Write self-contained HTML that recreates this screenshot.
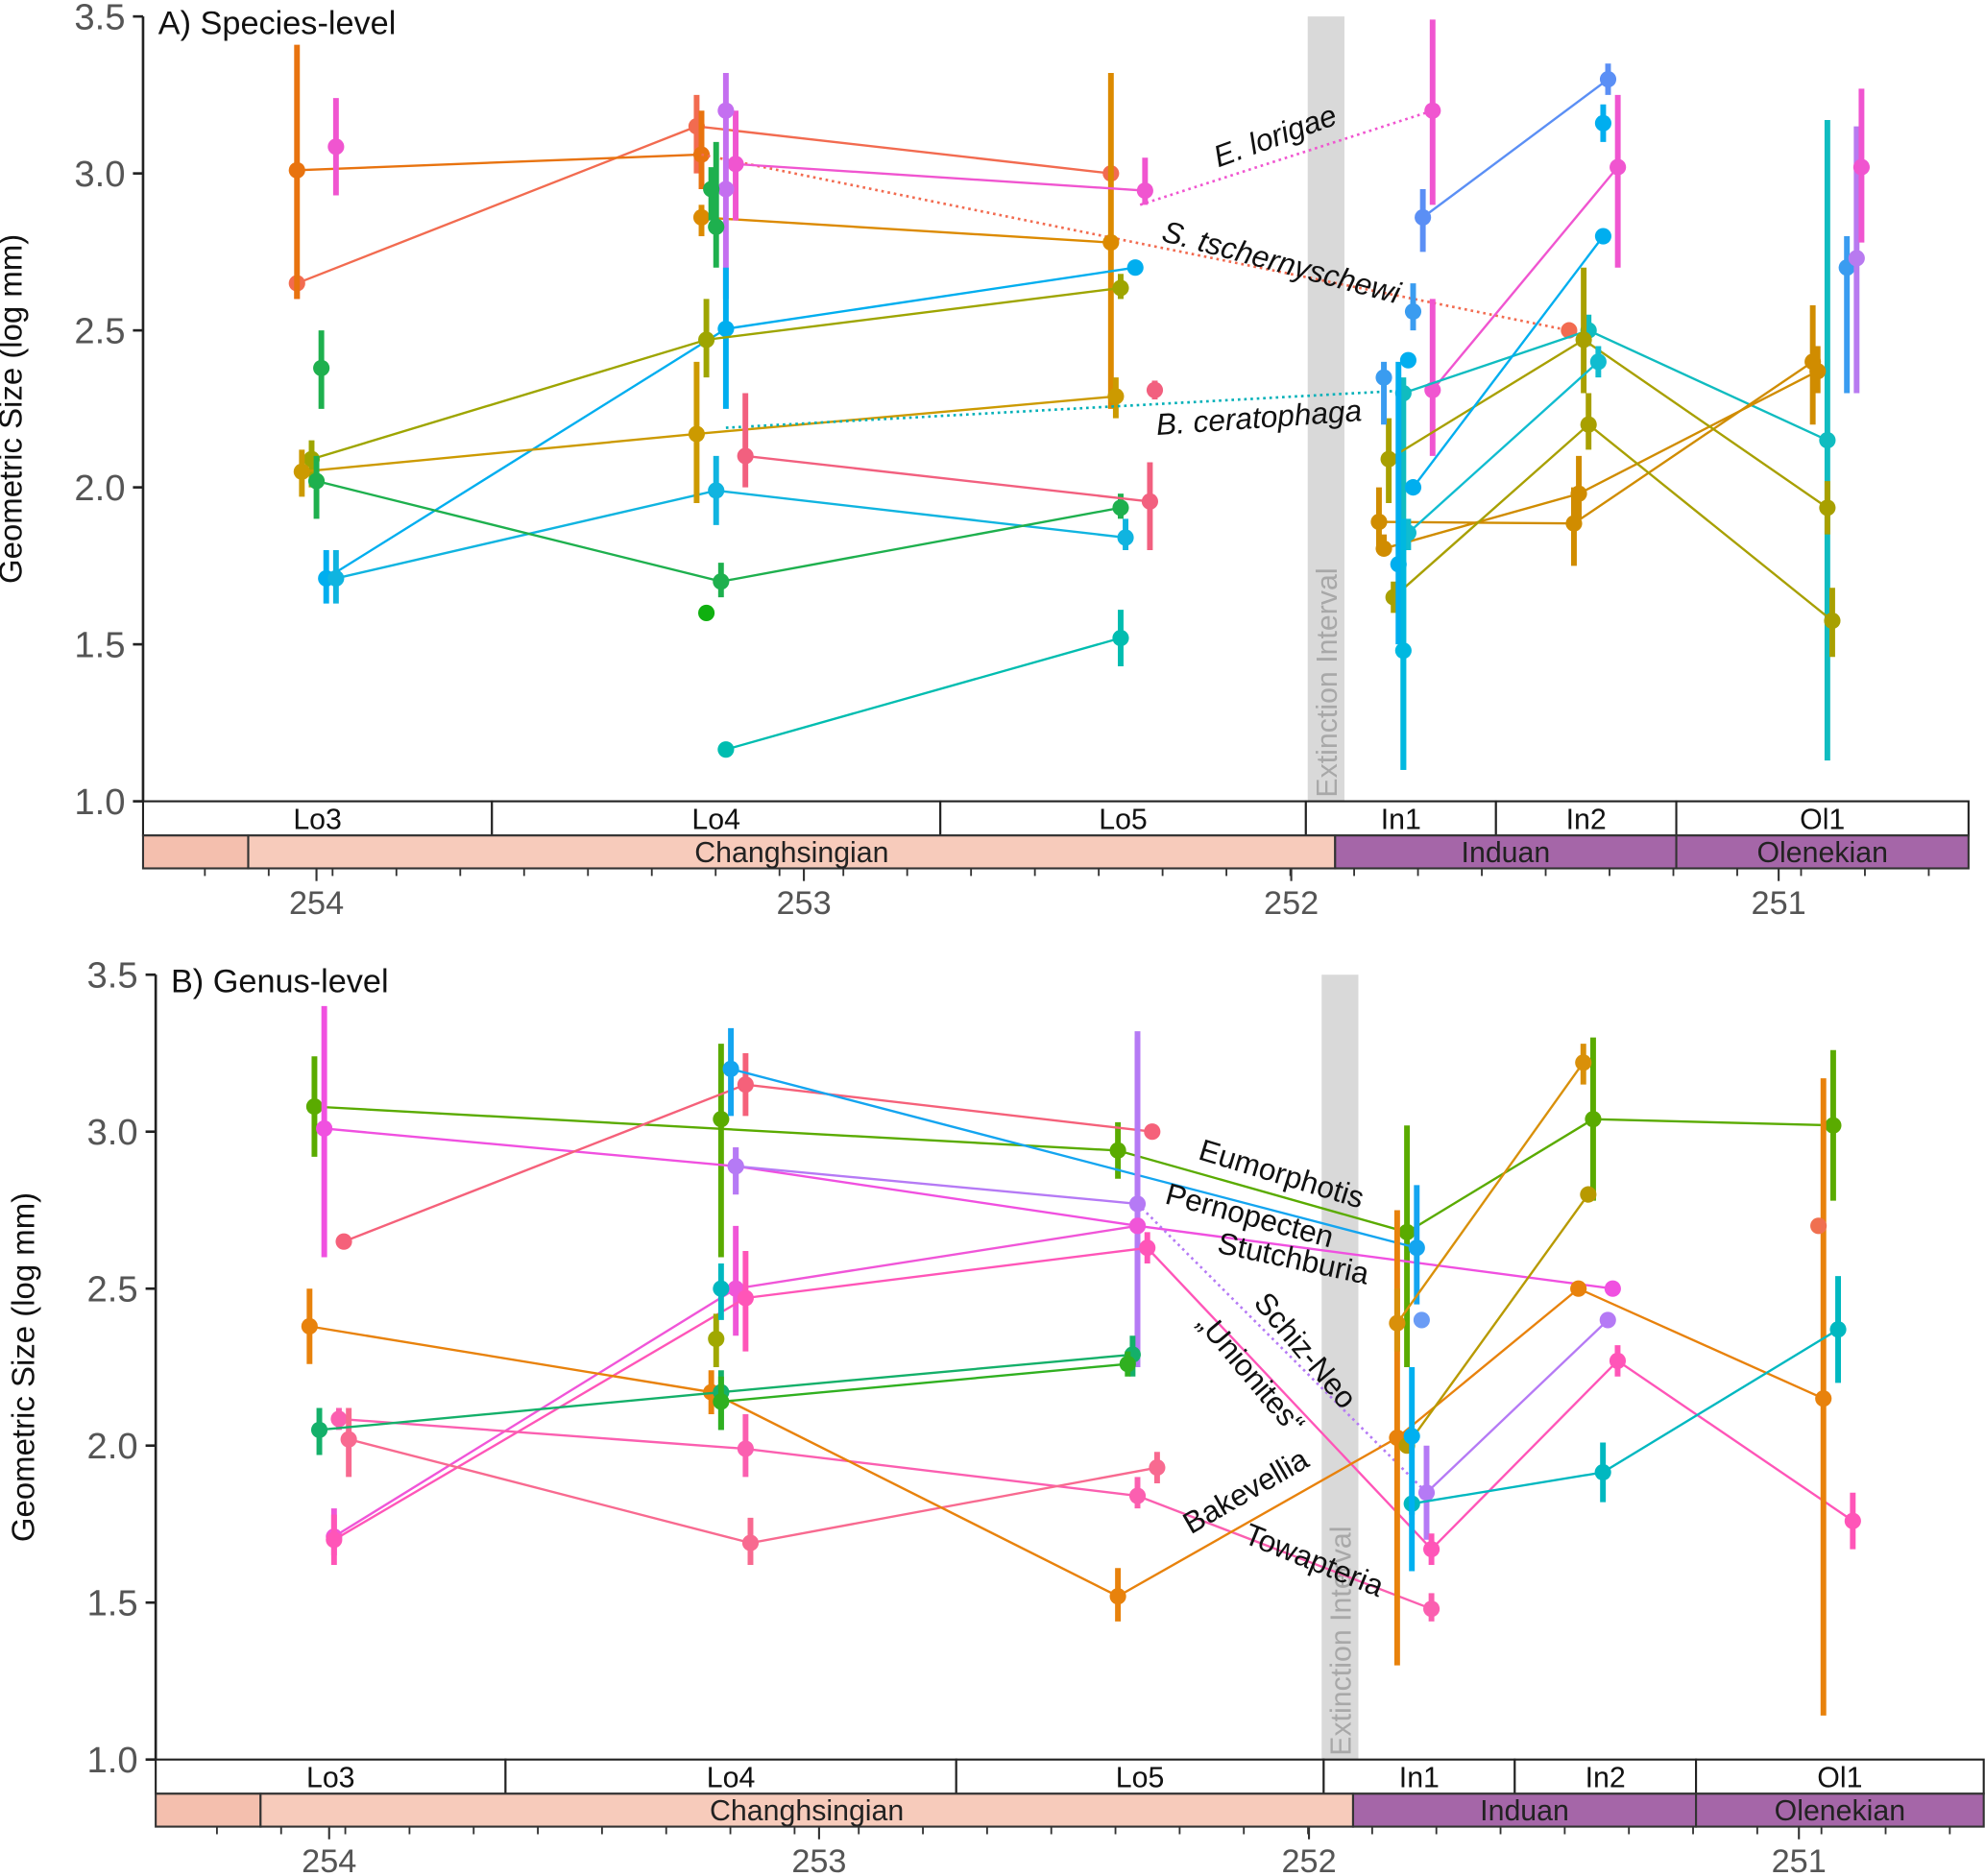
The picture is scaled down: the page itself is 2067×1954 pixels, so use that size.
<!DOCTYPE html>
<html><head><meta charset="utf-8"><style>
html,body{margin:0;padding:0;background:#fff}
svg{display:block}
text{font-family:"Liberation Sans",Arial,sans-serif}
</style></head><body>
<svg id="fig" width="2067" height="1954" viewBox="0 0 1568 1482" preserveAspectRatio="none" xmlns="http://www.w3.org/2000/svg"></svg>
<script>
// ---------- data ----------
const yTicks = [1.0, 1.5, 2.0, 2.5, 3.0, 3.5];
const ageTicks = [254, 253, 252, 251];
const substages = ["Lo3","Lo4","Lo5","In1","In2","Ol1"];
const substageBounds = [254.36, 253.64, 252.72, 251.97, 251.58, 251.21, 250.4];
const stageNames = ["", "Changhsingian", "Induan", "Olenekian"];
const stageBounds = [254.36, 254.14, 251.91, 251.21, 250.4];

const topSeries = [
 {c:"#f26b50",age:[254.04,253.22,252.37],val:[2.65,3.15,3.0],lo:[2.6,3.0,3.0],hi:[2.65,3.25,3.0]},
 {c:"#e8730f",age:[254.04,253.21],val:[3.01,3.06],lo:[2.6,2.95],hi:[3.41,3.2]},
 {c:"#f26b50",dot:1,age:[253.21,251.43],val:[3.06,2.5]},
 {c:"#f26b50",age:[251.43],val:[2.5],lo:[2.5],hi:[2.5]},
 {c:"#dc8a00",age:[253.21,252.37],val:[2.86,2.78],lo:[2.8,2.25],hi:[2.9,3.32]},
 {c:"#f055d0",age:[253.96],val:[3.085],lo:[2.93],hi:[3.24]},
 {c:"#f055d0",age:[253.14,252.30],val:[3.03,2.945],lo:[2.85,2.9],hi:[3.2,3.05]},
 {c:"#f055d0",dot:1,age:[252.31,251.71],val:[2.9,3.2]},
 {c:"#f055d0",age:[251.71],val:[3.2],lo:[2.9],hi:[3.49]},
 {c:"#c46ff0",age:[253.16],val:[3.2],lo:[2.6],hi:[3.32]},
 {c:"#c46ff0",age:[253.16],val:[2.95],lo:[2.95],hi:[2.95]},
 {c:"#5b8ff5",age:[251.73,251.35],val:[2.86,3.3],lo:[2.75,3.25],hi:[2.95,3.35]},
 {c:"#f055d0",age:[251.71,251.33],val:[2.31,3.02],lo:[2.1,2.7],hi:[2.6,3.25]},
 {c:"#00aeef",age:[253.98,253.16,252.32],val:[1.71,2.505,2.70],lo:[1.63,2.25,2.7],hi:[1.8,2.7,2.7]},
 {c:"#10b4e0",age:[253.96,253.18,252.34],val:[1.71,1.99,1.84],lo:[1.63,1.88,1.8],hi:[1.8,2.1,1.9]},
 {c:"#9ea500",age:[254.01,253.2,252.35],val:[2.09,2.47,2.635],lo:[2.0,2.35,2.6],hi:[2.15,2.6,2.68]},
 {c:"#cc9a00",age:[254.03,253.22,252.36],val:[2.05,2.17,2.29],lo:[1.97,1.95,2.22],hi:[2.12,2.4,2.35]},
 {c:"#00b0b8",dot:1,age:[253.16,251.75],val:[2.19,2.31]},
 {c:"#1eb04e",age:[254.0,253.17,252.35],val:[2.02,1.70,1.935],lo:[1.9,1.65,1.9],hi:[2.1,1.76,1.98]},
 {c:"#1eb04e",age:[253.99],val:[2.38],lo:[2.25],hi:[2.5]},
 {c:"#10b010",age:[253.2],val:[1.6],lo:[1.6],hi:[1.6]},
 {c:"#1eb04e",age:[253.19],val:[2.95],lo:[2.85],hi:[3.02]},
 {c:"#1eb04e",age:[253.18],val:[2.83],lo:[2.7],hi:[3.1]},
 {c:"#f2607f",age:[253.12,252.29],val:[2.1,1.955],lo:[2.0,1.8],hi:[2.3,2.08]},
 {c:"#f2607f",age:[252.28],val:[2.31],lo:[2.28],hi:[2.34]},
 {c:"#00bdb0",age:[253.16,252.35],val:[1.165,1.52],lo:[1.165,1.43],hi:[1.165,1.61]},
 {c:"#10bcc0",age:[251.77,251.39,250.9],val:[2.3,2.5,2.15],lo:[1.1,2.45,1.13],hi:[2.35,2.55,3.17]},
 {c:"#d08c00",age:[251.82,251.42,250.93],val:[1.89,1.885,2.40],lo:[1.8,1.75,2.2],hi:[2.0,2.0,2.58]},
 {c:"#d08c00",age:[251.81,251.41,250.92],val:[1.805,1.98,2.37],lo:[1.78,1.9,2.3],hi:[1.85,2.1,2.45]},
 {c:"#a8a000",age:[251.80,251.40,250.9],val:[2.09,2.47,1.935],lo:[1.95,2.3,1.85],hi:[2.22,2.7,2.02]},
 {c:"#a8a000",age:[251.79,251.39,250.89],val:[1.65,2.2,1.575],lo:[1.6,2.12,1.46],hi:[1.7,2.3,1.68]},
 {c:"#10bcd0",age:[251.76,251.37],val:[1.855,2.4],lo:[1.8,2.35],hi:[1.9,2.45]},
 {c:"#00aeef",age:[251.75,251.36],val:[2.0,2.8],lo:[2.0,2.8],hi:[2.0,2.8]},
 {c:"#3a9cf0",age:[251.81],val:[2.35],lo:[2.2],hi:[2.4]},
 {c:"#00aeef",age:[251.76],val:[2.405],lo:[2.405],hi:[2.405]},
 {c:"#3a9cf0",age:[251.75],val:[2.56],lo:[2.5],hi:[2.65]},
 {c:"#00aeef",age:[251.78],val:[1.755],lo:[1.5],hi:[2.4]},
 {c:"#00b8e0",age:[251.77],val:[1.48],lo:[1.1],hi:[1.9]},
 {c:"#3a9cf0",age:[250.86],val:[2.7],lo:[2.3],hi:[2.8]},
 {c:"#b87af0",age:[250.84],val:[2.73],lo:[2.3],hi:[3.15]},
 {c:"#f055d0",age:[250.83],val:[3.02],lo:[2.78],hi:[3.27]},
 {c:"#00aeef",age:[251.36],val:[3.16],lo:[3.1],hi:[3.22]}
];
const bottomSeries = [
 {c:"#5aab00",age:[254.03,252.39,251.8,251.42,250.93],val:[3.08,2.94,2.68,3.04,3.02],lo:[2.92,2.85,2.25,2.78,2.78],hi:[3.24,3.03,3.02,3.3,3.26]},
 {c:"#5aab00",age:[253.2],val:[3.04],lo:[2.6],hi:[3.28]},
 {c:"#f050e0",age:[254.01,253.17,252.35,251.38],val:[3.01,2.89,2.70,2.5],lo:[2.6,2.8,2.3,2.5],hi:[3.4,2.95,3.3,2.5]},
 {c:"#f5617a",age:[253.97,253.15,252.32],val:[2.65,3.15,3.0],lo:[2.65,3.05,3.0],hi:[2.65,3.25,3.0]},
 {c:"#14a5f0",age:[253.18,251.78],val:[3.2,2.63],lo:[3.05,2.45],hi:[3.33,2.83]},
 {c:"#6a9cf5",age:[251.77],val:[2.4],lo:[2.4],hi:[2.4]},
 {c:"#b57af5",age:[253.17,252.35],val:[2.89,2.77],lo:[2.8,2.25],hi:[2.95,3.32]},
 {c:"#b57af5",dot:1,age:[252.35,251.76],val:[2.77,1.85]},
 {c:"#b57af5",age:[251.76,251.39],val:[1.85,2.4],lo:[1.7,2.4],hi:[2.0,2.4]},
 {c:"#f055d8",age:[253.99,253.17,252.35],val:[1.71,2.5,2.70],lo:[1.65,2.35,2.7],hi:[1.8,2.7,2.7]},
 {c:"#ff55b8",age:[253.99,253.15,252.33,251.75,251.37,250.89],val:[1.70,2.47,2.63,1.67,2.27,1.76],lo:[1.62,2.3,2.58,1.62,2.22,1.67],hi:[1.78,2.62,2.68,1.72,2.32,1.85]},
 {c:"#fb5fb0",age:[253.98,253.15,252.35,251.75],val:[2.085,1.99,1.84,1.48],lo:[2.05,1.9,1.8,1.44],hi:[2.12,2.1,1.9,1.53]},
 {c:"#f86a90",age:[253.96,253.14,252.31],val:[2.02,1.69,1.93],lo:[1.9,1.62,1.88],hi:[2.12,1.77,1.98]},
 {c:"#e8820c",age:[254.04,253.22,252.39,251.82,251.45,250.95],val:[2.38,2.17,1.52,2.025,2.5,2.15],lo:[2.26,2.1,1.44,1.3,2.5,1.14],hi:[2.5,2.24,1.61,2.75,2.5,3.17]},
 {c:"#d9900a",age:[251.82,251.44],val:[2.39,3.22],lo:[2.3,3.15],hi:[2.5,3.28]},
 {c:"#b89a00",age:[251.8,251.43],val:[2.0,2.8],lo:[2.0,2.8],hi:[2.0,2.8]},
 {c:"#f07050",age:[250.96],val:[2.7],lo:[2.7],hi:[2.7]},
 {c:"#14b06a",age:[254.02,253.2,252.36],val:[2.05,2.17,2.29],lo:[1.97,2.05,2.22],hi:[2.12,2.24,2.35]},
 {c:"#30b020",age:[253.2,252.37],val:[2.14,2.26],lo:[2.05,2.22],hi:[2.22,2.3]},
 {c:"#00b8c0",age:[251.79,251.4,250.92],val:[1.815,1.915,2.37],lo:[1.78,1.82,2.2],hi:[1.84,2.01,2.54]},
 {c:"#00b0f0",age:[251.79],val:[2.03],lo:[1.6],hi:[2.25]},
 {c:"#a0a800",age:[253.21],val:[2.34],lo:[2.25],hi:[2.42]},
 {c:"#00b8c0",age:[253.2],val:[2.5],lo:[2.4],hi:[2.58]}
];
const topLabels = [
 {t:"E. lorigae",x:1010,y:115,r:-20,it:1},
 {t:"S. tschernyschewi",x:1010,y:215,r:15,it:1},
 {t:"B. ceratophaga",x:995,y:338,r:-4,it:1}
];
const bottomLabels = [
 {t:"Eumorphotis",x:1010,y:935,r:17},
 {t:"Pernopecten",x:985,y:968,r:15},
 {t:"Stutchburia",x:1020,y:1002,r:12},
 {t:"Schiz-Neo",x:1025,y:1072,r:50},
 {t:"„Unionites“",x:982,y:1090,r:50},
 {t:"Bakevellia",x:988,y:1185,r:-30},
 {t:"Towapteria",x:1035,y:1240,r:22}
];

// ---------- drawing ----------
const svg = document.getElementById('fig');
const NS = "http://www.w3.org/2000/svg";
function mk(tag, attrs, parent){
  const e = document.createElementNS(NS, tag);
  for (const k in attrs) e.setAttribute(k, attrs[k]);
  (parent||svg).appendChild(e);
  return e;
}
function panel(P){
  const g = mk('g', {});
  
  
  const X = a => P.x0 + (254 - a) * P.pxPerMyr;
  const Y = v => P.yBot - (v - 1.0) * P.pxPerUnit;
  const band = mk('rect', {x:P.bandX, y:Y(3.5), width:29, height:Y(1.0)-Y(3.5), fill:"#d9d9d9"}, g);
  
  
  const bt = mk('text', {x:0, y:0, 'font-size':23, fill:"#a8a8a8", 'text-anchor':'start', transform:`translate(${P.bandX+23},${Y(1.0)-3}) rotate(-90)`}, g);
  bt.textContent = "Extinction Interval";
  
  
  const yAx = mk('line', {x1:P.axX, x2:P.axX, y1:Y(3.5), y2:Y(1.0), stroke:"#222", 'stroke-width':2}, g);
  
  
  yTicks.forEach(v => {
    mk('line', {x1:P.axX-8, x2:P.axX, y1:Y(v), y2:Y(v), stroke:"#222", 'stroke-width':2}, g);
    const t = mk('text', {x:P.axX-14, y:Y(v)+10, 'font-size':29, fill:"#555", 'text-anchor':'end'}, g);
    t.textContent = v.toFixed(1);
    
    
  });
  const yt = mk('text', {x:0, y:0, 'font-size':25, fill:"#111", 'text-anchor':'middle', transform:`translate(${P.axX-96},${(Y(3.5)+Y(1.0))/2}) rotate(-90)`}, g);
  yt.textContent = "Geometric Size (log mm)";
  
  
  const ttl = mk('text', {x:P.axX+12, y:Y(3.5)+14, 'font-size':26, fill:"#111"}, g);
  ttl.textContent = P.title;
  
  
  const r1 = Y(1.0), r2 = r1+27, r3 = r2+26;
  const left = P.axX, right = P.right;
  const cx = a => Math.max(left, Math.min(right, X(a)));
  for (let i=0;i<substages.length;i++){
    const a = cx(substageBounds[i]), b = cx(substageBounds[i+1]);
    const rc = mk('rect', {x:a, y:r1, width:b-a, height:27, fill:"#fff", stroke:"#222", 'stroke-width':1.6}, g);
    
    
    const t = mk('text', {x:(a+b)/2, y:r1+22, 'font-size':23, fill:"#111", 'text-anchor':'middle'}, g);
    t.textContent = substages[i];
    
    
  }
  const stageCols = ["#f4bfae","#f7cbbb","#a566a8","#a566a8"];
  for (let i=0;i<stageNames.length;i++){
    const a = cx(stageBounds[i]), b = cx(stageBounds[i+1]);
    const rc = mk('rect', {x:a, y:r2, width:b-a, height:26, fill:stageCols[i], stroke:"#333", 'stroke-width':1.6}, g);
    
    
    const t = mk('text', {x:(a+b)/2, y:r2+21, 'font-size':23, fill:"#222", 'text-anchor':'middle'}, g);
    t.textContent = stageNames[i];
    
    
  }
  for (let a=254.36; a>250.4; a-=0.131){
    const x = X(a); if (x<left||x>right) continue;
    mk('line', {x1:x, x2:x, y1:r3, y2:r3+6, stroke:"#333", 'stroke-width':1.4}, g);
  }
  ageTicks.forEach(a => {
    mk('line', {x1:X(a), x2:X(a), y1:r3, y2:r3+10, stroke:"#333", 'stroke-width':1.6}, g);
    const t = mk('text', {x:X(a), y:r3+36, 'font-size':26, fill:"#555", 'text-anchor':'middle'}, g);
    t.textContent = a;
    
    
  });
  P.series.forEach(s => {
    const pts = s.age.map((a,i)=>X(a).toFixed(1)+','+Y(s.val[i]).toFixed(1)).join(' ');
    if (s.age.length>1){
      const pl = mk('polyline', {points:pts, fill:'none', stroke:s.c, 'stroke-width':s.dot?2:1.8, 'stroke-dasharray':s.dot?'2 3':'none'}, g);
      
      
    }
    if (s.dot) return;
    s.age.forEach((a,i) => {
      const eb = mk('line', {x1:X(a), x2:X(a), y1:Y(s.lo[i]), y2:Y(s.hi[i]), stroke:s.c, 'stroke-width':4.5}, g);
      
      
      const c = mk('circle', {cx:X(a), cy:Y(s.val[i]), r:6.5, fill:s.c}, g);
      
      
    });
  });
  P.labels.forEach(L => {
    const t = mk('text', {x:0, y:0, 'font-size':24, fill:"#111", 'text-anchor':'middle', 'font-style':L.it?'italic':'normal', transform:`translate(${L.x},${L.y}) rotate(${L.r})`}, g);
    t.textContent = L.t;
    
    
  });
}
panel({name:'panel-a-species', title:'A) Species-level', x0:250, pxPerMyr:385, yBot:633, pxPerUnit:248, axX:113, right:1555, bandX:1033, series:topSeries, labels:topLabels});
panel({name:'panel-b-genus', title:'B) Genus-level', x0:260, pxPerMyr:387, yBot:1390, pxPerUnit:248, axX:123, right:1567, bandX:1044, series:bottomSeries, labels:bottomLabels});
</script>
</body></html>
